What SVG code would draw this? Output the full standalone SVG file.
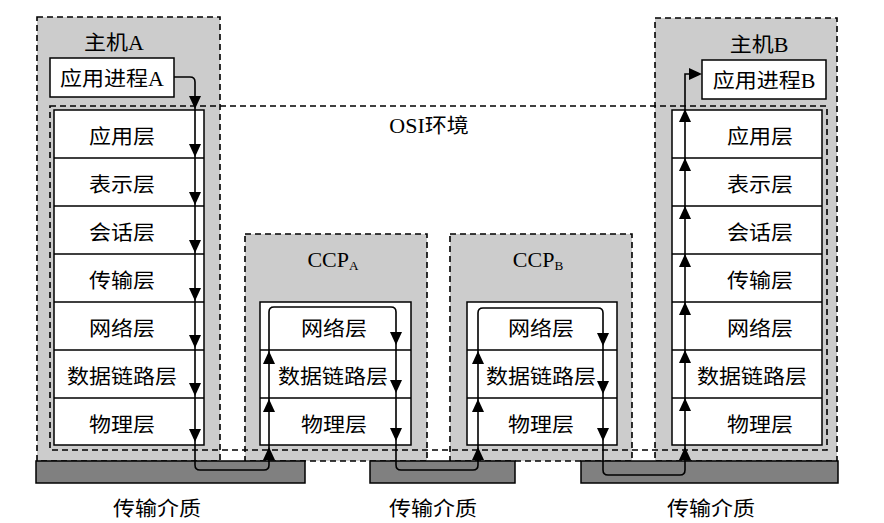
<svg xmlns="http://www.w3.org/2000/svg" width="884" height="523" viewBox="0 0 884 523">
<style>
.t{font-family:"Liberation Serif","Noto Sans CJK SC",serif;font-size:20px;fill:#000;text-anchor:middle}
.grp{fill:#cccccc;stroke:#000;stroke-width:1.6;stroke-dasharray:6,4}
.osi{fill:none;stroke:#000;stroke-width:1.6;stroke-dasharray:6,4}
.box{fill:#fff;stroke:#000;stroke-width:1.5}
.row{fill:none;stroke:#000;stroke-width:1.5}
.med{fill:#808080;stroke:#000;stroke-width:1.5}
.ln{fill:none;stroke:#000;stroke-width:1.6}
</style>
<defs>
<path id="ah" d="M0,0 L-6,-13 L6,-13 Z" fill="#000"/>
</defs>
<rect width="884" height="523" fill="#fff"/>

<g id="hostA">
<rect class="grp" x="37" y="17" width="183" height="444"/>
<text class="t" transform="translate(114,50) scale(1.1,1)">主机A</text>
<rect class="box" x="50" y="58" width="124" height="39"/>
<text class="t" transform="translate(112,86) scale(1.1,1)">应用进程A</text>
</g>
<g id="hostB">
<rect class="grp" x="655" y="18" width="182" height="443"/>
<text class="t" transform="translate(759,52) scale(1.1,1)">主机B</text>
<rect class="box" x="702" y="60" width="124" height="39"/>
<text class="t" transform="translate(764,88) scale(1.1,1)">应用进程B</text>
</g>
<g id="ccpA">
<rect class="grp" x="245" y="234" width="182" height="227"/>
<text class="t" transform="translate(333,267) scale(1.1,1)">CCP<tspan font-size="12" dy="3">A</tspan></text>
</g>
<g id="ccpB">
<rect class="grp" x="450" y="234" width="182" height="227"/>
<text class="t" transform="translate(538,267) scale(1.1,1)">CCP<tspan font-size="12" dy="3">B</tspan></text>
</g>

<g id="osi">
<rect class="osi" x="50" y="106" width="777" height="344"/>
<text class="t" transform="translate(429,133) scale(1.1,1)">OSI环境</text>
</g>

<g id="stackA">
<rect class="box" x="54" y="110" width="150" height="335"/>
<path class="row" d="M54,158H204M54,206H204M54,254H204M54,302H204M54,350H204M54,398H204"/>
<text class="t" transform="translate(122,144) scale(1.1,1)">应用层</text>
<text class="t" transform="translate(122,192) scale(1.1,1)">表示层</text>
<text class="t" transform="translate(122,240) scale(1.1,1)">会话层</text>
<text class="t" transform="translate(122,288) scale(1.1,1)">传输层</text>
<text class="t" transform="translate(122,336) scale(1.1,1)">网络层</text>
<text class="t" transform="translate(122,384) scale(1.1,1)">数据链路层</text>
<text class="t" transform="translate(122,432) scale(1.1,1)">物理层</text>
</g>
<g id="stackB">
<rect class="box" x="672" y="110" width="150" height="335"/>
<path class="row" d="M672,158H822M672,206H822M672,254H822M672,302H822M672,350H822M672,398H822"/>
<text class="t" transform="translate(760,144) scale(1.1,1)">应用层</text>
<text class="t" transform="translate(760,192) scale(1.1,1)">表示层</text>
<text class="t" transform="translate(760,240) scale(1.1,1)">会话层</text>
<text class="t" transform="translate(760,288) scale(1.1,1)">传输层</text>
<text class="t" transform="translate(760,336) scale(1.1,1)">网络层</text>
<text class="t" transform="translate(752,384) scale(1.1,1)">数据链路层</text>
<text class="t" transform="translate(760,432) scale(1.1,1)">物理层</text>
</g>
<g id="stackCA">
<rect class="box" x="260" y="302" width="151" height="143"/>
<path class="row" d="M260,350H411M260,398H411"/>
<text class="t" transform="translate(334,336) scale(1.1,1)">网络层</text>
<text class="t" transform="translate(333,384) scale(1.1,1)">数据链路层</text>
<text class="t" transform="translate(334,432) scale(1.1,1)">物理层</text>
</g>
<g id="stackCB">
<rect class="box" x="467" y="302" width="150" height="143"/>
<path class="row" d="M467,350H617M467,398H617"/>
<text class="t" transform="translate(541,336) scale(1.1,1)">网络层</text>
<text class="t" transform="translate(541,384) scale(1.1,1)">数据链路层</text>
<text class="t" transform="translate(541,432) scale(1.1,1)">物理层</text>
</g>

<g id="media">
<rect class="med" x="36" y="461" width="269" height="22"/>
<rect class="med" x="370" y="461" width="145" height="22"/>
<rect class="med" x="581" y="461" width="257" height="22"/>
<text class="t" transform="translate(157,516) scale(1.1,1)">传输介质</text>
<text class="t" transform="translate(433,516) scale(1.1,1)">传输介质</text>
<text class="t" transform="translate(711,516) scale(1.1,1)">传输介质</text>
</g>

<g id="connectors">
<path class="ln" d="M174,77H190Q195,77 195,82V465Q195,470 200,470H264Q269,470 269,465V312Q269,307 274,307H391Q396,307 396,312V465Q396,470 401,470H473Q478,470 478,465V313Q478,308 483,308H598Q603,308 603,313V470Q603,475 608,475H680Q685,475 685,470V74H690"/>
<use href="#ah" transform="translate(195,109)"/>
<use href="#ah" transform="translate(195,157)"/>
<use href="#ah" transform="translate(195,205)"/>
<use href="#ah" transform="translate(195,253)"/>
<use href="#ah" transform="translate(195,301)"/>
<use href="#ah" transform="translate(195,348)"/>
<use href="#ah" transform="translate(195,396)"/>
<use href="#ah" transform="translate(195,442)"/>
<use href="#ah" transform="translate(269,351) rotate(180)"/>
<use href="#ah" transform="translate(269,399) rotate(180)"/>
<use href="#ah" transform="translate(269,447) rotate(180)"/>
<use href="#ah" transform="translate(396,345)"/>
<use href="#ah" transform="translate(396,393)"/>
<use href="#ah" transform="translate(396,441)"/>
<use href="#ah" transform="translate(478,351) rotate(180)"/>
<use href="#ah" transform="translate(478,399) rotate(180)"/>
<use href="#ah" transform="translate(478,447) rotate(180)"/>
<use href="#ah" transform="translate(603,346)"/>
<use href="#ah" transform="translate(603,394)"/>
<use href="#ah" transform="translate(603,441)"/>
<use href="#ah" transform="translate(685,109) rotate(180)"/>
<use href="#ah" transform="translate(685,158) rotate(180)"/>
<use href="#ah" transform="translate(685,206) rotate(180)"/>
<use href="#ah" transform="translate(685,254) rotate(180)"/>
<use href="#ah" transform="translate(685,302) rotate(180)"/>
<use href="#ah" transform="translate(685,350) rotate(180)"/>
<use href="#ah" transform="translate(685,398) rotate(180)"/>
<use href="#ah" transform="translate(685,447) rotate(180)"/>
<use href="#ah" transform="translate(702,74) rotate(-90)"/>
</g>
</svg>
